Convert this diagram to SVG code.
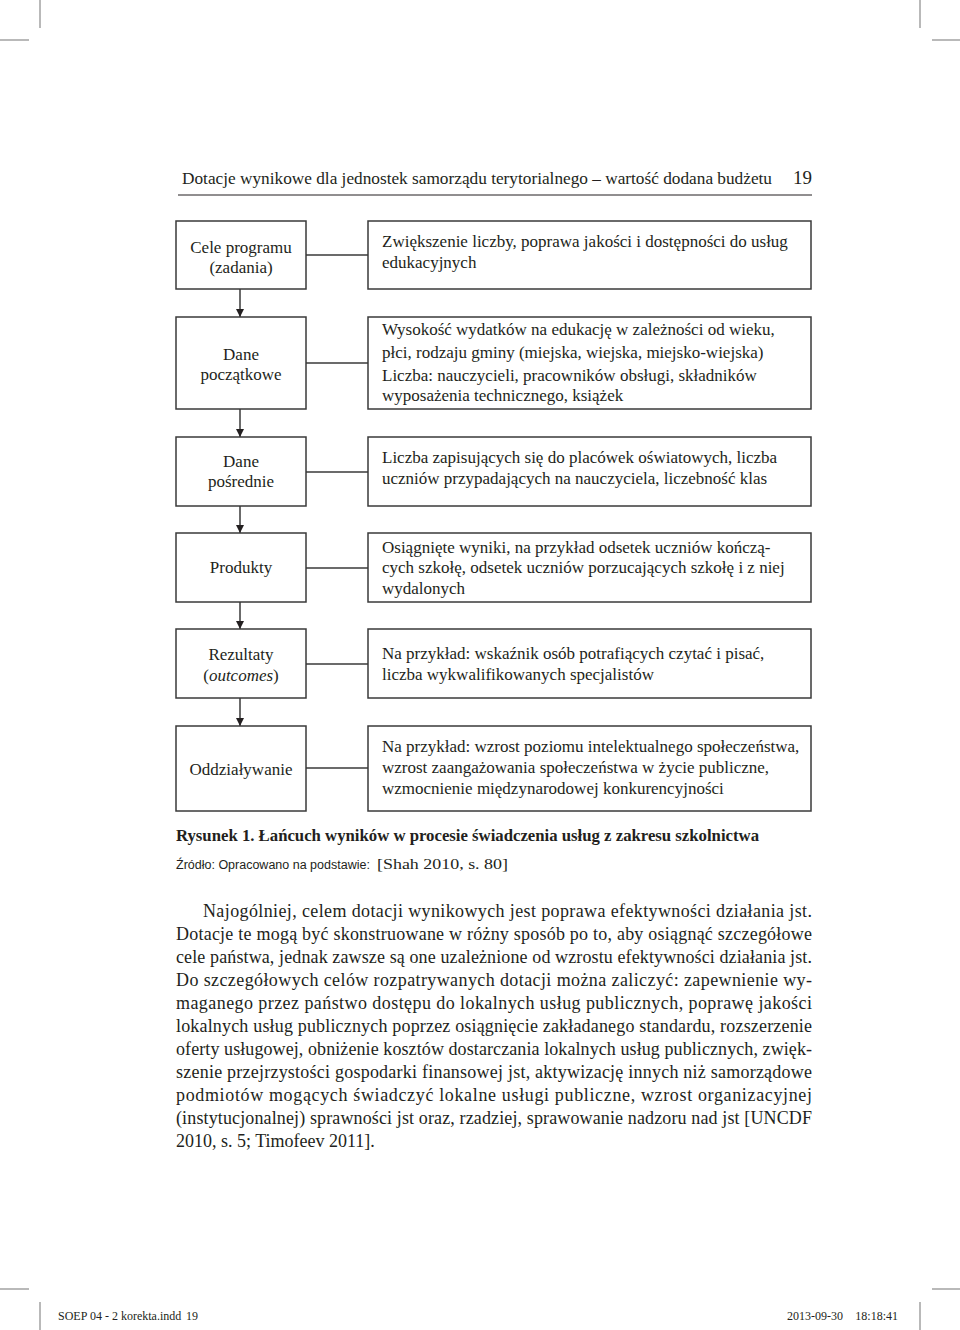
<svg xmlns="http://www.w3.org/2000/svg" width="960" height="1330" viewBox="0 0 960 1330">
<defs>
<style>
.bg{fill:#ffffff}
.crop{stroke:#8a8a8a;stroke-width:1.2;fill:none}
.box{fill:#ffffff;stroke:#3a3a3a;stroke-width:1.5}
.con{stroke:#3a3a3a;stroke-width:1.5;fill:none}
.t{font-family:"Liberation Serif","Times New Roman",serif;font-size:17px;fill:#231f20}
.c{text-anchor:middle}
.hdr{font-family:"Liberation Serif","Times New Roman",serif;font-size:17px;fill:#231f20}
.body{font-family:"Liberation Serif","Times New Roman",serif;font-size:18px;fill:#231f20}
.cap{font-family:"Liberation Serif","Times New Roman",serif;font-size:16px;font-weight:bold;fill:#231f20}
.src{font-family:"Liberation Sans",Arial,sans-serif;font-size:12.5px;fill:#231f20}
.srcs{font-family:"Liberation Serif","Times New Roman",serif;font-size:14.5px;fill:#231f20}
.foot{font-family:"Liberation Serif","Times New Roman",serif;font-size:12px;fill:#231f20}
</style>
<marker id="ah" viewBox="0 0 10 10" refX="10" refY="5" markerWidth="8" markerHeight="8" markerUnits="userSpaceOnUse" orient="auto">
<path d="M0,0 L10,5 L0,10 Z" fill="#231f20"/>
</marker>
</defs>
<rect class="bg" x="0" y="0" width="960" height="1330"/>

<g id="cropmarks">
<line class="crop" x1="40" y1="0" x2="40" y2="28"/>
<line class="crop" x1="0" y1="40" x2="29" y2="40"/>
<line class="crop" x1="920" y1="0" x2="920" y2="28"/>
<line class="crop" x1="932" y1="40" x2="960" y2="40"/>
<line class="crop" x1="0" y1="1289" x2="29" y2="1289"/>
<line class="crop" x1="932" y1="1289" x2="960" y2="1289"/>
<line class="crop" x1="40" y1="1302" x2="40" y2="1330"/>
<line class="crop" x1="920" y1="1302" x2="920" y2="1330"/>
</g>

<g id="header">
<text class="hdr" x="182" y="184" textLength="590" lengthAdjust="spacingAndGlyphs">Dotacje wynikowe dla jednostek samorządu terytorialnego – wartość dodana budżetu</text>
<text class="hdr" x="812" y="184" text-anchor="end" style="font-size:19px">19</text>
<line x1="178" y1="195" x2="812" y2="195" stroke="#231f20" stroke-width="1"/>
</g>

<g id="connectors">
<line class="con" x1="306" y1="255" x2="368" y2="255"/>
<line class="con" x1="306" y1="363" x2="368" y2="363"/>
<line class="con" x1="306" y1="472" x2="368" y2="472"/>
<line class="con" x1="306" y1="568" x2="368" y2="568"/>
<line class="con" x1="306" y1="664" x2="368" y2="664"/>
<line class="con" x1="306" y1="768" x2="368" y2="768"/>
<line class="con" x1="240" y1="289" x2="240" y2="317" marker-end="url(#ah)"/>
<line class="con" x1="240" y1="409" x2="240" y2="437" marker-end="url(#ah)"/>
<line class="con" x1="240" y1="506" x2="240" y2="533" marker-end="url(#ah)"/>
<line class="con" x1="240" y1="602" x2="240" y2="629" marker-end="url(#ah)"/>
<line class="con" x1="240" y1="698" x2="240" y2="726" marker-end="url(#ah)"/>
</g>

<g id="n1">
<rect class="box" x="176" y="221" width="130" height="68"/>
<text class="t c" x="241" y="253">Cele programu</text>
<text class="t c" x="241" y="273">(zadania)</text>
</g>
<g id="d1">
<rect class="box" x="368" y="221" width="443" height="68"/>
<text class="t" x="382" y="247">Zwiększenie liczby, poprawa jakości i dostępności do usług</text>
<text class="t" x="382" y="268">edukacyjnych</text>
</g>

<g id="n2">
<rect class="box" x="176" y="317" width="130" height="92"/>
<text class="t c" x="241" y="360">Dane</text>
<text class="t c" x="241" y="380">początkowe</text>
</g>
<g id="d2">
<rect class="box" x="368" y="317" width="443" height="92"/>
<text class="t" x="382" y="335">Wysokość wydatków na edukację w zależności od wieku,</text>
<text class="t" x="382" y="358">płci, rodzaju gminy (miejska, wiejska, miejsko-wiejska)</text>
<text class="t" x="382" y="381">Liczba: nauczycieli, pracowników obsługi, składników</text>
<text class="t" x="382" y="401">wyposażenia technicznego, książek</text>
</g>

<g id="n3">
<rect class="box" x="176" y="437" width="130" height="69"/>
<text class="t c" x="241" y="467">Dane</text>
<text class="t c" x="241" y="487">pośrednie</text>
</g>
<g id="d3">
<rect class="box" x="368" y="437" width="443" height="69"/>
<text class="t" x="382" y="463">Liczba zapisujących się do placówek oświatowych, liczba</text>
<text class="t" x="382" y="484">uczniów przypadających na nauczyciela, liczebność klas</text>
</g>

<g id="n4">
<rect class="box" x="176" y="533" width="130" height="69"/>
<text class="t c" x="241" y="573">Produkty</text>
</g>
<g id="d4">
<rect class="box" x="368" y="533" width="443" height="69"/>
<text class="t" x="382" y="553">Osiągnięte wyniki, na przykład odsetek uczniów kończą-</text>
<text class="t" x="382" y="573">cych szkołę, odsetek uczniów porzucających szkołę i z niej</text>
<text class="t" x="382" y="594">wydalonych</text>
</g>

<g id="n5">
<rect class="box" x="176" y="629" width="130" height="69"/>
<text class="t c" x="241" y="660">Rezultaty</text>
<text class="t c" x="241" y="681">(<tspan font-style="italic">outcomes</tspan>)</text>
</g>
<g id="d5">
<rect class="box" x="368" y="629" width="443" height="69"/>
<text class="t" x="382" y="659">Na przykład: wskaźnik osób potrafiących czytać i pisać,</text>
<text class="t" x="382" y="680">liczba wykwalifikowanych specjalistów</text>
</g>

<g id="n6">
<rect class="box" x="176" y="726" width="130" height="85"/>
<text class="t c" x="241" y="775">Oddziaływanie</text>
</g>
<g id="d6">
<rect class="box" x="368" y="726" width="443" height="85"/>
<text class="t" x="382" y="752">Na przykład: wzrost poziomu intelektualnego społeczeństwa,</text>
<text class="t" x="382" y="773">wzrost zaangażowania społeczeństwa w życie publiczne,</text>
<text class="t" x="382" y="794">wzmocnienie międzynarodowej konkurencyjności</text>
</g>

<g id="caption">
<text class="cap" x="176" y="841" textLength="583" lengthAdjust="spacingAndGlyphs">Rysunek 1. Łańcuch wyników w procesie świadczenia usług z zakresu szkolnictwa</text>
<text class="src" x="176" y="869">Źródło: Opracowano na podstawie:</text>
<text class="srcs" x="377" y="869" textLength="131" lengthAdjust="spacingAndGlyphs">[Shah 2010, s. 80]</text>
</g>

<g id="bodytext">
<text class="body" x="203" y="917" textLength="609" lengthAdjust="spacing">Najogólniej, celem dotacji wynikowych jest poprawa efektywności działania jst.</text>
<text class="body" x="176" y="940" textLength="636" lengthAdjust="spacing">Dotacje te mogą być skonstruowane w różny sposób po to, aby osiągnąć szczegółowe</text>
<text class="body" x="176" y="963" textLength="636" lengthAdjust="spacing">cele państwa, jednak zawsze są one uzależnione od wzrostu efektywności działania jst.</text>
<text class="body" x="176" y="986" textLength="636" lengthAdjust="spacing">Do szczegółowych celów rozpatrywanych dotacji można zaliczyć: zapewnienie wy-</text>
<text class="body" x="176" y="1009" textLength="636" lengthAdjust="spacing">maganego przez państwo dostępu do lokalnych usług publicznych, poprawę jakości</text>
<text class="body" x="176" y="1032" textLength="636" lengthAdjust="spacing">lokalnych usług publicznych poprzez osiągnięcie zakładanego standardu, rozszerzenie</text>
<text class="body" x="176" y="1055" textLength="636" lengthAdjust="spacing">oferty usługowej, obniżenie kosztów dostarczania lokalnych usług publicznych, zwięk-</text>
<text class="body" x="176" y="1078" textLength="636" lengthAdjust="spacing">szenie przejrzystości gospodarki finansowej jst, aktywizację innych niż samorządowe</text>
<text class="body" x="176" y="1101" textLength="636" lengthAdjust="spacing">podmiotów mogących świadczyć lokalne usługi publiczne, wzrost organizacyjnej</text>
<text class="body" x="176" y="1124" textLength="636" lengthAdjust="spacing">(instytucjonalnej) sprawności jst oraz, rzadziej, sprawowanie nadzoru nad jst [UNCDF</text>
<text class="body" x="176" y="1147">2010, s. 5; Timofeev 2011].</text>
</g>

<g id="footer">
<text class="foot" x="58" y="1320">SOEP 04 - 2 korekta.indd</text>
<text class="foot" x="186" y="1320">19</text>
<text class="foot" x="843" y="1320" text-anchor="end">2013-09-30</text>
<text class="foot" x="898" y="1320" text-anchor="end">18:18:41</text>
</g>
</svg>
